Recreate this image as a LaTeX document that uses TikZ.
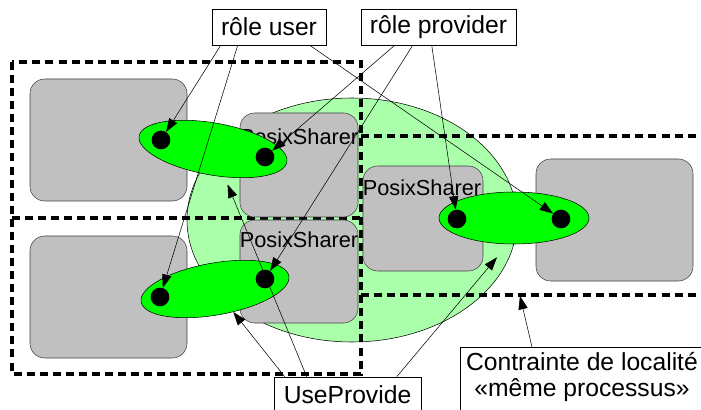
\documentclass[tikz,border=0pt]{standalone}
\usepackage{fontspec}
\setmainfont{Liberation Sans}
\usepackage{tikz}
\usetikzlibrary{arrows.meta,positioning,calc,shapes.geometric}
\definecolor{procgreen}{RGB}{170,255,170}
\definecolor{bindgreen}{RGB}{0,255,0}
\definecolor{compgray}{RGB}{192,192,192}

\begin{document}
\begin{tikzpicture}[x=0.75pt,y=-0.75pt,>={Triangle[length=10pt,width=7pt]},
    zone/.style={draw, line width=2.6pt, dash pattern=on 6pt off 3.8pt},
    comp/.style={draw=black!75, fill=compgray, rounded corners=11pt, inner sep=0pt},
    bind/.style={ellipse, draw, fill=bindgreen, inner sep=0pt, minimum width=112.5pt, minimum height=39pt},
    port/.style={circle, fill=black, inner sep=0pt, minimum size=14pt},
    lbl/.style={draw, fill=white, inner sep=0pt, font=\fontsize{18.5}{19.5}\selectfont},
    sharer/.style={inner sep=0pt, font=\fontsize{16.3}{18}\selectfont}]
    \clip (0,0) rectangle (701,410);

    \node[ellipse, draw, fill=procgreen, minimum width=247.5pt, minimum height=183pt] (proc) at (352,220) {};

    \draw[zone] (12,62) rectangle (361,374);
    \draw[zone] (12,218) -- (361,218);
    \draw[zone] (361,136) -- (720,136) (361,295) -- (720,295);

    \node[comp, minimum width=117.75pt, minimum height=91.5pt] (c1) at (108.5,140) {};
    \node[comp, minimum width=88.5pt, minimum height=78pt] (c2) at (299,165) {};
    \node[comp, minimum width=117.75pt, minimum height=91.5pt] (c3) at (108.5,297) {};
    \node[comp, minimum width=88.5pt, minimum height=77.25pt] (c4) at (299,271.5) {};
    \node[comp, minimum width=90pt, minimum height=78.75pt] (c5) at (423,218.5) {};
    \node[comp, minimum width=117.75pt, minimum height=91.5pt] (c6) at (614.5,220) {};

    \node[sharer] (t2) at (299,137) {PosixSharer};
    \node[sharer] (t4) at (299,240) {PosixSharer};
    \node[sharer] (t5) at (422,188) {PosixSharer};

    \node[bind, rotate=-10] (b1) at (213,149) {};
    \node[bind, rotate=10] (b2) at (215,289) {};
    \node[bind] (b3) at (514,218) {};

    \node[port] (p1) at (161,140) {};
    \node[port] (p2) at (265,157) {};
    \node[port] (p3) at (160,297) {};
    \node[port] (p4) at (265,279) {};
    \node[port] (p5) at (457,219) {};
    \node[port] (p6) at (561,219) {};

    \node[lbl, minimum width=85.5pt, minimum height=27pt] (ru) at (269,27) {rôle user};
    \node[lbl, minimum width=116.25pt, minimum height=27pt] (rp) at (438.5,27) {rôle provider};
    \node[lbl, minimum width=110.25pt, minimum height=27pt] (up) at (347.5,395) {UseProvide};
    \node[lbl, minimum width=183pt, minimum height=60pt, anchor=north west] (clbox) at (460,347) {};
    \node[sharer, align=center, font=\fontsize{18.5}{19.5}\selectfont] (cl) at (582,377) {Contrainte de localité\\«même processus»};
    \coordinate (zb) at (520,296);

    \draw[->] ($(ru.south west)+(9,0)$) -- (p1);
    \draw[->] ($(ru.south west)+(26,0)$) -- (p3);
    \draw[->] ($(ru.south west)+(98,0)$) -- (p6);

    \draw[->] ($(rp.south west)+(34,0)$) -- (p2);
    \draw[->] ($(rp.south west)+(52,0)$) -- (p4);
    \draw[->] ($(rp.south west)+(71,0)$) -- (p5);

    \draw[->] ($(up.north west)+(11,0)$) -- (b2);
    \draw[->, shorten >=6pt] ($(up.north west)+(33,0)$) -- (b1);
    \draw[->] ($(up.north west)+(123,0)$) -- ($(b3.south)+(-17,13)$);

    \draw[->] ($(clbox.north west)+(72,0)$) -- (zb);
\end{tikzpicture}
\end{document}
